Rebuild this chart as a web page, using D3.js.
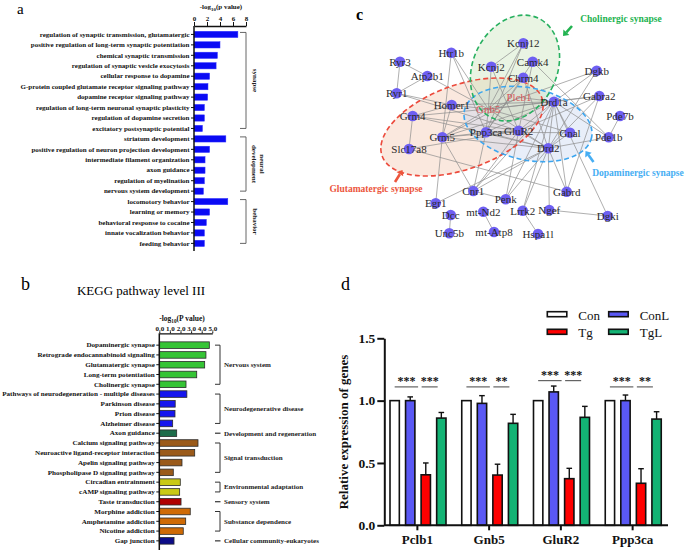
<!DOCTYPE html>
<html><head><meta charset="utf-8">
<script src="https://cdn.jsdelivr.net/npm/d3@7/dist/d3.min.js"></script>
<style>
body{margin:0;background:#fff}
svg{display:block}
text{font-family:"Liberation Serif","Times New Roman",serif}
</style>
</head><body>
<svg id="chart" width="685" height="551"></svg>
<script>
// ---------------- DATA ----------------
// Panel a: GO terms
const goTerms = [
  "regulation of synaptic transmission, glutamatergic",
  "positive regulation of long-term synaptic potentiation",
  "chemical synaptic transmission",
  "regulation of synaptic vesicle exocytosis",
  "cellular response to dopamine",
  "G-protein coupled glutamate receptor signaling pathway",
  "dopamine receptor signaling pathway",
  "regulation of long-term neuronal synaptic plasticity",
  "regulation of dopamine secretion",
  "excitatory postsynaptic potential",
  "striatum development",
  "positive regulation of neuron projection development",
  "intermediate filament organization",
  "axon guidance",
  "regulation of myelination",
  "nervous system development",
  "locomotory behavior",
  "learning or memory",
  "behavioral response to cocaine",
  "innate vocalization behavior",
  "feeding behavior"
];
const goValues = [6.75, 4.0, 3.6, 3.4, 2.4, 2.15, 2.1, 1.6, 1.6, 1.3, 4.9, 2.4, 1.7, 1.7, 1.6, 1.45, 5.2, 2.4, 1.9, 1.6, 1.6];
const goTicks = [0, 2, 4, 6, 8];
const goGroupNames = [["synapse"], ["neural", "development"], ["behavior"]];
const goGroupFirst = [0, 10, 16];
const goGroupLast = [9, 15, 20];

// Panel b: KEGG pathways
const keggTerms = [
  "Dopaminergic synapse",
  "Retrograde endocannabinoid signaling",
  "Glutamatergic synapse",
  "Long-term potentiation",
  "Cholinergic synapse",
  "Pathways of neurodegeneration - multiple diseases",
  "Parkinson disease",
  "Prion disease",
  "Alzheimer disease",
  "Axon guidance",
  "Calcium signaling pathway",
  "Neuroactive ligand-receptor interaction",
  "Apelin signaling pathway",
  "Phospholipase D signaling pathway",
  "Circadian entrainment",
  "cAMP signaling pathway",
  "Taste transduction",
  "Morphine addiction",
  "Amphetamine addiction",
  "Nicotine addiction",
  "Gap junction"
];
const keggValues = [4.72, 4.4, 4.28, 3.53, 2.52, 2.6, 1.5, 1.48, 1.26, 1.64, 3.65, 3.34, 2.14, 1.32, 1.98, 1.92, 2.05, 2.92, 2.49, 2.26, 1.39];
const keggCategory = [
  "Nervous system","Nervous system","Nervous system","Nervous system","Nervous system",
  "Neurodegenerative disease","Neurodegenerative disease","Neurodegenerative disease","Neurodegenerative disease",
  "Development and regeneration",
  "Signal transduction","Signal transduction","Signal transduction","Signal transduction",
  "Environmental adaptation","Environmental adaptation",
  "Sensory system",
  "Substance dependence","Substance dependence","Substance dependence",
  "Cellular community-eukaryotes"
];
const keggCategories = ["Nervous system","Neurodegenerative disease","Development and regeneration","Signal transduction","Environmental adaptation","Sensory system","Substance dependence","Cellular community-eukaryotes"];
const keggTicks = [0, 1, 2, 3, 4, 5];

// Panel c: network (layout coordinates in panel units)
const netNodes = ["Kcnj12","Camk4","Kcnj2","Htr1b","Ryr3","Atp2b1","Ryr1","Chrm4","Dgkb","Plcb1","Homer1","Gnb5","Drd1a","Gabra2","Grm4","Pde7b","Ppp3ca","GluR2","Gnal","Grm5","Pde1b","Slc17a8","Drd2","Cnr1","Egr1","Penk","Gabrd","Dcc","mt-Nd2","Lrrk2","Ngef","Dgki","Unc5b","mt-Atp8","Hspa1l"];
const netX = [193.3,202.7,161.3,121.3,70,97.3,66.7,193.3,266.7,189,121.7,158.3,224,269.3,82.7,290,156,188.7,240,112.3,278.7,79,218.3,143.3,105.7,175.7,236.7,120.7,153.3,192.7,219.3,277.7,119.3,164,208];
const netY = [43.3,61.7,66.7,52.7,61.7,76,93.3,77.7,70.7,97.3,105,109,101.7,96,116,116,132.3,130.7,132.7,137.3,137.3,149,148.3,191,203.3,199.3,191.7,215,211.7,210.7,210,216,233.3,232,234];
const highlighted = ["Plcb1","Gnb5"];
const netEdges = [
  ["Ryr3","Ryr1"],["Ryr3","Atp2b1"],["Atp2b1","Ryr1"],["Ryr1","GluR2"],["Atp2b1","Gnb5"],
  ["Htr1b","Grm5"],["Htr1b","Gnb5"],["Htr1b","Ppp3ca"],
  ["Kcnj12","Gnb5"],["Kcnj12","Ppp3ca"],["Kcnj12","Kcnj2"],["Kcnj2","Gnb5"],["Kcnj2","GluR2"],
  ["Camk4","Ppp3ca"],["Camk4","Pde1b"],["Camk4","GluR2"],
  ["Chrm4","Gnb5"],["Chrm4","Ppp3ca"],["Chrm4","Drd2"],
  ["Dgkb","Drd1a"],["Dgkb","Gnb5"],["Dgkb","Drd2"],
  ["Gabra2","Drd1a"],["Gabra2","Gnb5"],["Gabra2","Gabrd"],["Gabra2","Drd2"],["Gabra2","GluR2"],
  ["Pde7b","Pde1b"],["Pde1b","Drd1a"],["Pde1b","Drd2"],
  ["Homer1","Grm5"],["Homer1","Grm4"],["Homer1","Gnb5"],["Homer1","Drd1a"],["Homer1","Ryr1"],
  ["Grm4","Slc17a8"],["Grm4","GluR2"],["Grm4","Gnb5"],["Grm4","Drd2"],
  ["Grm5","Gnb5"],["Grm5","Ppp3ca"],["Grm5","GluR2"],["Grm5","Drd1a"],["Grm5","Cnr1"],["Grm5","Egr1"],["Grm5","Drd2"],
  ["Slc17a8","Gabrd"],["Slc17a8","GluR2"],
  ["Ppp3ca","GluR2"],["Ppp3ca","Drd1a"],["Ppp3ca","Drd2"],["Ppp3ca","Cnr1"],["Ppp3ca","Gnb5"],["Ppp3ca","Gnal"],
  ["GluR2","Drd1a"],["GluR2","Drd2"],["GluR2","Cnr1"],["GluR2","Penk"],
  ["Gnb5","Drd1a"],["Gnb5","Drd2"],["Gnb5","Gnal"],["Plcb1","Drd1a"],["Plcb1","Grm5"],
  ["Drd1a","Gnal"],["Drd1a","Drd2"],["Drd1a","Penk"],["Drd1a","Cnr1"],["Drd1a","Gabrd"],["Drd1a","Dgki"],["Drd1a","Lrrk2"],
  ["Drd2","Gnal"],["Drd2","Penk"],["Drd2","Cnr1"],["Drd2","Lrrk2"],["Drd2","Ngef"],["Drd2","Gabrd"],["Drd2","Egr1"],
  ["Cnr1","Penk"],["Ngef","Dgki"],["Dcc","Unc5b"],["mt-Nd2","mt-Atp8"],["Lrrk2","Hspa1l"]
];
const pathwayNames = ["Glutamatergic synapse","Dopaminergic synapse","Cholinergic synapse"];

// Panel d: qPCR
const genes = ["Pclb1","Gnb5","GluR2","Ppp3ca"];
const seriesNames = ["Con","ConL","Tg","TgL"];
const conValues  = [1.0, 1.0, 1.0, 1.0];
const conLValues = [1.0, 0.978, 1.07, 1.0];
const tgValues   = [0.405, 0.403, 0.374, 0.337];
const tgLValues  = [0.86, 0.818, 0.866, 0.852];
const conErr  = [0, 0, 0, 0];
const conLErr = [0.03, 0.062, 0.047, 0.045];
const tgErr   = [0.095, 0.087, 0.083, 0.117];
const tgLErr  = [0.045, 0.072, 0.088, 0.059];
const sigConTg = ["***","***","***","***"];
const sigTgTgL = ["***","**","***","**"];
const sigLevel = [1.11, 1.11, 1.16, 1.11];
const dTicks = [0, 0.5, 1.0, 1.5];

// ---------------- STYLES ----------------
const keggColor = {
  "Nervous system":"#35c435","Neurodegenerative disease":"#1616ee","Development and regeneration":"#1d6c4a",
  "Signal transduction":"#9a5a1a","Environmental adaptation":"#c9c915","Sensory system":"#b00000",
  "Substance dependence":"#cf6a05","Cellular community-eukaryotes":"#0c0c88"
};
const seriesColor = {"Con":"#ffffff","ConL":"#5a58f4","Tg":"#ff0000","TgL":"#13b374"};
const pathwayStyle = {
  "Glutamatergic synapse":{stroke:"#ec4a3c",fill:"#f3c6ac",text:"#ec553c"},
  "Dopaminergic synapse":{stroke:"#3da6ef",fill:"#c6d5ef",text:"#46aef3"},
  "Cholinergic synapse":{stroke:"#28b060",fill:"#c8e4b8",text:"#22b350"}
};

const svg = d3.select("#chart");
const F = '"Liberation Serif","Times New Roman",serif';

function styleAxis(g, size, weight){
  g.attr("font-family",null);
  g.selectAll("text").style("font-family",F).style("font-size",size+"px").style("font-weight",weight).attr("fill","#111");
  g.selectAll("line").attr("stroke","#111");
  g.selectAll("path").attr("stroke","#111");
}
function logTitle(g, x, y, size, word){
  const t = g.append("text").attr("x",x).attr("y",y).attr("text-anchor","middle")
    .style("font-size",size+"px").style("font-weight","bold").attr("fill","#111");
  t.append("tspan").text("-log");
  t.append("tspan").text("10").attr("dy",size*0.3).style("font-size",(size*0.7)+"px");
  t.append("tspan").text("(" + word + " value)").attr("dy",-size*0.3);
}

// ---------------- PANEL A ----------------
const gA = svg.append("g");
gA.append("text").attr("x",17).attr("y",14).text("a").style("font-size","15px");
const ax = d3.scaleLinear().domain([0,8]).range([194,246]);
const ay = d3.scaleBand().domain(goTerms).range([29.2,248.6]).paddingInner(0.4).paddingOuter(0.2);
gA.selectAll("rect.bar").data(goTerms).join("rect").attr("class","bar")
  .attr("x",ax(0)).attr("y",d=>ay(d)).attr("height",ay.bandwidth())
  .attr("width",(d,i)=>ax(goValues[i])-ax(0))
  .attr("fill","#0a0af4").attr("stroke","#3030ff").attr("stroke-width",0.5);
const aTop = gA.append("g").attr("transform","translate(0,26)")
  .call(d3.axisTop(ax).tickValues(goTicks).tickSize(4).tickPadding(1).tickSizeOuter(0));
styleAxis(aTop,7,"bold");
aTop.select(".domain").attr("stroke-width",1.3);
const aLeft = gA.append("g").attr("transform","translate(194,0)")
  .call(d3.axisLeft(ay).tickSize(3).tickPadding(1.5).tickSizeOuter(0));
styleAxis(aLeft,7,"bold");
aLeft.select(".domain").remove();
gA.append("line").attr("x1",194).attr("x2",194).attr("y1",26).attr("y2",251).attr("stroke","#111").attr("stroke-width",1.5);
logTitle(gA,221,9,7,"p");
goGroupNames.forEach((lines,k)=>{
  const y0 = ay(goTerms[goGroupFirst[k]]) + ay.bandwidth()/2 - 2;
  const y1 = ay(goTerms[goGroupLast[k]]) + ay.bandwidth()/2;
  gA.append("path").attr("d",`M240,${y0}H246V${y1}H240`).attr("fill","none").attr("stroke","#555").attr("stroke-width",0.9);
  const cy = (y0+y1)/2;
  const t = gA.append("text").attr("transform",`translate(${lines.length>1?260:253},${cy}) rotate(90)`)
    .attr("text-anchor","middle").style("font-size","7px").style("font-weight","bold").attr("fill","#222");
  lines.forEach((l,i)=>t.append("tspan").attr("x",0).attr("dy",i===0?0:8).text(l));
});

// ---------------- PANEL B ----------------
const gB = svg.append("g");
gB.append("text").attr("x",21).attr("y",290).text("b").style("font-size","18px");
gB.append("text").attr("x",141).attr("y",295).attr("text-anchor","middle").text("KEGG pathway level III").style("font-size","13px");
const bx = d3.scaleLinear().domain([0,5]).range([159.3,212.3]);
const by = d3.scaleBand().domain(keggTerms).range([340.2,545.8]).paddingInner(0.33).paddingOuter(0.17);
gB.selectAll("rect.bar").data(keggTerms).join("rect").attr("class","bar")
  .attr("x",bx(0)).attr("y",d=>by(d)).attr("height",by.bandwidth())
  .attr("width",(d,i)=>bx(keggValues[i])-bx(0))
  .attr("fill",(d,i)=>keggColor[keggCategory[i]]).attr("stroke","#2a2a2a").attr("stroke-width",0.8);
const bTop = gB.append("g").attr("transform","translate(0,333.3)")
  .call(d3.axisTop(bx).tickValues(keggTicks).tickSize(2).tickPadding(0.5).tickSizeOuter(0));
styleAxis(bTop,7,"bold");
bTop.select(".domain").attr("stroke-width",1.3);
const bLeft = gB.append("g").attr("transform","translate(159.3,0)")
  .call(d3.axisLeft(by).tickSize(3).tickPadding(1.5).tickSizeOuter(0));
styleAxis(bLeft,7.1,"bold");
bLeft.select(".domain").remove();
gB.append("line").attr("x1",159.3).attr("x2",159.3).attr("y1",333.3).attr("y2",550).attr("stroke","#111").attr("stroke-width",1.5);
logTitle(gB,182,321,7.5,"P");
keggCategories.forEach(cat=>{
  const idx = keggCategory.map((c,i)=>c===cat?i:-1).filter(i=>i>=0);
  const y0 = by(keggTerms[idx[0]]) + by.bandwidth()/2;
  const y1 = by(keggTerms[idx[idx.length-1]]) + by.bandwidth()/2;
  if(idx.length>1){
    gB.append("path").attr("d",`M215,${y0}H220V${y1}H215`).attr("fill","none").attr("stroke","#333").attr("stroke-width",1);
  } else {
    gB.append("line").attr("x1",215).attr("x2",220.5).attr("y1",y0).attr("y2",y0).attr("stroke","#333").attr("stroke-width",1.2);
  }
  gB.append("text").attr("x",224).attr("y",(y0+y1)/2+2.4).text(cat)
    .style("font-size","7px").style("font-weight","bold").attr("fill","#222");
});

// ---------------- PANEL C ----------------
const gC = svg.append("g");
gC.append("text").attr("x",356).attr("y",20).text("c").style("font-size","16px").style("font-weight","bold");
const nx = d3.scaleLinear().domain([0,355]).range([330,685]);
const ny = d3.scaleLinear().domain([0,551]).range([0,551]);
const nodeIdx = name => netNodes.indexOf(name);
const ellipses = [
  {name:"Glutamatergic synapse", cx:132, cy:127, rx:85, ry:42, rot:-20},
  {name:"Dopaminergic synapse", cx:198, cy:124, rx:65, ry:36, rot:12},
  {name:"Cholinergic synapse", cx:185, cy:68, rx:42, ry:55, rot:25}
];
const eG = gC.append("g");
ellipses.forEach(e=>{
  const s = pathwayStyle[e.name];
  eG.append("ellipse").attr("transform",`translate(${nx(e.cx)},${ny(e.cy)}) rotate(${e.rot})`)
    .attr("rx",e.rx).attr("ry",e.ry).attr("fill",s.fill).attr("fill-opacity",0.4).attr("stroke","none");
});
gC.append("g").selectAll("line").data(netEdges).join("line")
  .attr("x1",d=>nx(netX[nodeIdx(d[0])])).attr("y1",d=>ny(netY[nodeIdx(d[0])]))
  .attr("x2",d=>nx(netX[nodeIdx(d[1])])).attr("y2",d=>ny(netY[nodeIdx(d[1])]))
  .attr("stroke","#8c8c8c").attr("stroke-width",0.7);
ellipses.forEach(e=>{
  const s = pathwayStyle[e.name];
  gC.append("ellipse").attr("transform",`translate(${nx(e.cx)},${ny(e.cy)}) rotate(${e.rot})`)
    .attr("rx",e.rx).attr("ry",e.ry).attr("fill","none").attr("stroke",s.stroke)
    .attr("stroke-width",1.6).attr("stroke-dasharray","5,3");
});
gC.append("g").selectAll("circle").data(netNodes.filter(n=>!highlighted.includes(n))).join("circle")
  .attr("cx",d=>nx(netX[nodeIdx(d)])).attr("cy",d=>ny(netY[nodeIdx(d)])).attr("r",5.3)
  .attr("fill","#6e5ff2");
gC.append("g").selectAll("text").data(netNodes).join("text")
  .attr("x",d=>nx(netX[nodeIdx(d)])).attr("y",d=>ny(netY[nodeIdx(d)])+3.8)
  .attr("text-anchor","middle").text(d=>d)
  .style("font-size","11px").attr("fill",d=>highlighted.includes(d)?"#d9585a":"#2a2a2a");
// pathway labels and arrows
const labelPos = {
  "Cholinergic synapse":{x:621,y:22,ax1:572,ay1:26,ax2:563,ay2:36},
  "Glutamatergic synapse":{x:376,y:192,ax1:395,ay1:182,ax2:402.5,ay2:170},
  "Dopaminergic synapse":{x:638,y:176,ax1:593.5,ay1:162,ax2:585.5,ay2:151}
};
pathwayNames.forEach(p=>{
  const s = pathwayStyle[p], L = labelPos[p];
  gC.append("text").attr("x",L.x).attr("y",L.y).attr("text-anchor","middle").text(p)
    .style("font-size","9.5px").style("font-weight","bold").attr("fill",s.text);
  const dx = L.ax2-L.ax1, dy = L.ay2-L.ay1, len = Math.hypot(dx,dy), ux = dx/len, uy = dy/len;
  const bx0 = L.ax2 - ux*5, by0 = L.ay2 - uy*5;
  gC.append("line").attr("x1",L.ax1).attr("y1",L.ay1).attr("x2",bx0).attr("y2",by0)
    .attr("stroke",s.text).attr("stroke-width",2.6);
  gC.append("path").attr("d",`M${L.ax2},${L.ay2}L${bx0-uy*4},${by0+ux*4}L${bx0+uy*4},${by0-ux*4}Z`).attr("fill",s.text);
});

// ---------------- PANEL D ----------------
const gD = svg.append("g");
gD.append("text").attr("x",341).attr("y",290).text("d").style("font-size","18px");
const dx0 = d3.scaleBand().domain(genes).range([381.5,668.5]);
const dx1 = d3.scaleBand().domain(seriesNames).range([8.5,64.5]).paddingInner(0.4);
const dy = d3.scaleLinear().domain([0,1.5]).range([525.3,338.3]);
const seriesVals = {"Con":conValues,"ConL":conLValues,"Tg":tgValues,"TgL":tgLValues};
const seriesErr = {"Con":conErr,"ConL":conLErr,"Tg":tgErr,"TgL":tgLErr};
const barData = [];
genes.forEach((g,gi)=>seriesNames.forEach(s=>barData.push({g,gi,s,v:seriesVals[s][gi],e:seriesErr[s][gi]})));
const bw = dx1.bandwidth();
gD.selectAll("line.err").data(barData.filter(d=>d.e>0)).join("line").attr("class","err")
  .attr("x1",d=>dx0(d.g)+dx1(d.s)+bw/2).attr("x2",d=>dx0(d.g)+dx1(d.s)+bw/2)
  .attr("y1",d=>dy(d.v)).attr("y2",d=>dy(d.v+d.e)).attr("stroke","#111").attr("stroke-width",1.4);
gD.selectAll("line.cap").data(barData.filter(d=>d.e>0)).join("line").attr("class","cap")
  .attr("x1",d=>dx0(d.g)+dx1(d.s)+bw/2-2.8).attr("x2",d=>dx0(d.g)+dx1(d.s)+bw/2+2.8)
  .attr("y1",d=>dy(d.v+d.e)).attr("y2",d=>dy(d.v+d.e)).attr("stroke","#111").attr("stroke-width",1.4);
gD.selectAll("rect.bar").data(barData).join("rect").attr("class","bar")
  .attr("x",d=>dx0(d.g)+dx1(d.s)).attr("width",bw)
  .attr("y",d=>dy(d.v)).attr("height",d=>dy(0)-dy(d.v))
  .attr("fill",d=>seriesColor[d.s]).attr("stroke","#111").attr("stroke-width",1.6);
const dLeft = gD.append("g").attr("transform","translate(384.3,0)")
  .call(d3.axisLeft(dy).tickValues(dTicks).tickFormat(d3.format(".1f")).tickSize(7).tickPadding(2).tickSizeOuter(0));
styleAxis(dLeft,13.5,"bold");
dLeft.selectAll("line,path").attr("stroke-width",2);
const dBottom = gD.append("g").attr("transform","translate(0,525.3)")
  .call(d3.axisBottom(dx0).tickSize(5).tickPadding(4).tickSizeOuter(0));
styleAxis(dBottom,13,"bold");
dBottom.select(".domain").attr("d","M384.3,0H668");
dBottom.selectAll("line,path").attr("stroke-width",2);
gD.append("text").attr("transform","translate(348,432) rotate(-90)").attr("text-anchor","middle")
  .text("Relative expression of genes").style("font-size","13px").style("font-weight","bold").attr("fill","#111");
// significance
genes.forEach((g,gi)=>{
  const y = dy(sigLevel[gi]);
  const xa = dx0(g)+dx1("Con")+bw/2, xb = dx0(g)+dx1("Tg")-3;
  const xc = dx0(g)+dx1("Tg")+0.5, xd = dx0(g)+dx1("TgL")+1;
  [[xa,xb,sigConTg[gi]],[xc,xd,sigTgTgL[gi]]].forEach(([x1,x2,t])=>{
    gD.append("line").attr("x1",x1).attr("x2",x2).attr("y1",y).attr("y2",y).attr("stroke","#444").attr("stroke-width",1);
    gD.append("text").attr("x",(x1+x2)/2).attr("y",y-2).attr("text-anchor","middle").text(t)
      .style("font-size","12px").style("font-weight","bold").attr("fill","#111");
  });
});
// legend
const legX = [547.3,608.7,547.3,608.7], legY = [311.7,311.7,329.3,329.3];
seriesNames.forEach((s,i)=>{
  gD.append("rect").attr("x",legX[i]).attr("y",legY[i]).attr("width",19.5).attr("height",5)
    .attr("fill",seriesColor[s]).attr("stroke","#111").attr("stroke-width",1.6);
  gD.append("text").attr("x",legX[i]+31).attr("y",legY[i]+7.8).text(s).style("font-size","13px").attr("fill","#111");
});
</script>
</body></html>
